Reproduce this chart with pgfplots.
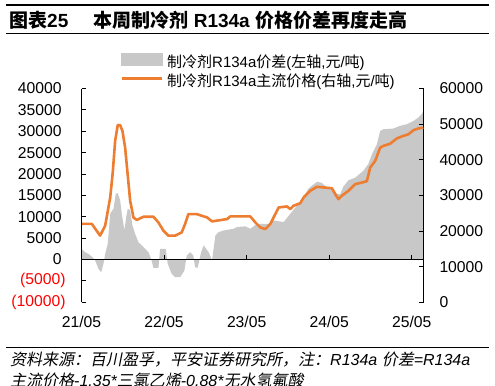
\documentclass[border=0pt]{standalone}
\usepackage{fontspec}
\setmainfont{Liberation Sans}
\newfontfamily\cjk{Noto Sans CJK SC}
\newfontfamily\cjkit{Noto Sans CJK SC}[FakeSlant=0.2]
\usepackage{pgfplots}
\pgfplotsset{compat=1.18}
\definecolor{mygrey}{RGB}{200,200,200}
\definecolor{myorange}{RGB}{237,125,49}
\pgfplotsset{
  greyleg/.style={legend image code/.code={\fill[mygrey] (0bp,-1.5bp) rectangle (41bp,10.7bp);}},
  orangeleg/.style={legend image code/.code={\draw[myorange,line width=3bp] (0bp,4.5bp) -- (40bp,4.5bp);}},
  myframe/.style={at={(81.5bp,82.75bp)}, anchor=south west, scale only axis,
    width=342bp, height=213.75bp, xmin=0, xmax=49.7,
    scaled y ticks=false, scaled x ticks=false},
  labelsonly/.style={myframe, ymin=-10000, ymax=40000,
    axis y line*=left, axis x line*=top,
    x axis line style={draw=none}, y axis line style={draw=none},
    xtick=\empty, ytick style={draw=none}},
}
\pgfplotstableread{
m v
0 2500
0.54 1700
1.02 1300
1.5 700
1.99 -230
2.47 -2200
2.86 -3000
3.19 -1000
3.44 1300
3.82 3700
4.17 10700
4.65 11900
4.98 15400
5.27 15500
5.62 13800
5.85 10700
6.24 6800
6.49 9900
6.72 11900
7.07 11500
7.4 8000
7.79 6000
8.27 4050
9.0 2900
9.73 1700
10.12 150
10.45 -1950
11.18 -1950
11.42 2500
12.24 2500
12.53 -1000
13.11 -3350
13.6 -4150
14.33 -4150
14.95 -2600
15.29 900
15.78 1700
16.26 900
16.5 -1800
16.88 -1950
17.38 1700
17.75 3300
18.48 1700
18.97 -200
19.45 5600
19.93 6400
20.66 6800
22.11 7200
22.6 7600
23.8 7750
24.53 7200
25.5 8350
27.43 8350
27.91 9150
29.37 8750
30.34 10700
31.31 12650
32.27 14600
33.0 16600
33.54 17350
34.26 18200
34.94 17900
35.71 16800
36.43 16800
37.16 15300
37.6 15300
38.03 17000
38.76 18500
39.77 19150
40.93 20700
41.66 22300
42.2 24600
42.92 26950
43.4 30070
43.88 30470
45.29 30630
46.3 31260
47.28 31650
48.24 32400
48.96 33200
49.45 34000
49.69 34800
}\spreadtab
\pgfplotstableread{
m r
0 22000
1.5 22000
2.7 18700
3.44 21500
4.17 29400
4.54 36400
4.89 45300
5.27 49760
5.62 49700
5.95 48100
6.34 43400
6.82 33600
7.07 28500
7.55 23800
8.03 23100
9.0 24000
10.45 24000
11.18 22400
11.9 20100
12.63 18700
13.6 18700
14.56 19600
15.05 21950
15.53 24750
16.74 24750
18.25 23800
18.97 22700
21.15 23350
21.63 24100
24.53 24100
25.26 22400
25.98 21000
26.71 20550
27.43 21950
28.16 24750
28.64 26600
29.86 26900
30.34 26150
30.82 27100
31.79 27800
32.27 29400
32.76 30350
33.24 31300
34.21 32400
36.39 32000
36.87 30350
37.35 28950
37.84 29900
38.8 31300
39.77 33150
40.75 33600
41.47 34000
41.95 37800
42.68 39700
43.4 43400
43.88 43900
44.85 44500
45.83 46000
46.78 46700
47.51 47150
48.24 48300
48.96 48800
49.69 49000
}\pricetab
\begin{document}
\begin{tikzpicture}[x=1bp,y=1bp]
\path[use as bounding box] (0,0) rectangle (495,385);
\draw[line width=1.5bp] (6,380) -- (489,380);
\draw[line width=1.3bp] (6,351.5) -- (489,351.5);
\node[anchor=base west, inner sep=0, font=\fontsize{19bp}{22bp}\selectfont\bfseries] at (9,358) {{\cjk 图表}25};
\node[anchor=base west, inner sep=0, font=\fontsize{19bp}{22bp}\selectfont\bfseries] at (93.3,358) {{\cjk 本周制冷剂} R134a {\cjk 价格价差再度走高}};
\draw[line width=1.2bp] (6,37.5) -- (489,37.5);
\node[anchor=base west, inner sep=0, font=\fontsize{16bp}{20bp}\selectfont\itshape] at (10,20) {{\cjkit 资料来源：百川盈孚，平安证券研究所，注：}R134a {\cjkit 价差}=R134a};
\node[anchor=base west, inner sep=0, font=\fontsize{16bp}{20bp}\selectfont\itshape] at (10,-1.7) {{\cjkit 主流价格}-1.35*{\cjkit 三氯乙烯}-0.88*{\cjkit 无水氢氟酸}};

% red negative labels of the left axis (labels only)
\begin{axis}[
  labelsonly,
  ytick={-10000,-5000}, yticklabels={(10000),(5000)},
  yticklabel style={anchor=east, inner sep=0pt, xshift=-15.8bp, text=red, font=\fontsize{15.7bp}{18bp}\selectfont},
]
\end{axis}

% positive labels of the left axis (labels only)
\begin{axis}[
  labelsonly,
  ytick={0,5000,...,40000},
  yticklabels={0,5000,10000,15000,20000,25000,30000,35000,40000},
  yticklabel style={anchor=east, inner sep=0pt, xshift=-19.8bp, font=\fontsize{15.7bp}{18bp}\selectfont},
]
\end{axis}

% grey spread (left axis scale)
\begin{axis}[myframe, ymin=-10000, ymax=40000, hide axis]
\addplot[fill=mygrey, draw=none] table[x=m, y=v] {\spreadtab} \closedcycle;
\end{axis}

% orange price (right axis), x labels, legend
\begin{axis}[
  myframe, ymin=0, ymax=60000,
  axis y line*=right, axis x line*=bottom,
  x axis line style={draw=none},
  y axis line style={black, line width=1bp},
  tick align=inside, major tick length=4.5bp,
  ytick style={black, line width=1bp},
  xtick style={draw=none},
  xtick={0,12,24,36,48}, xticklabels={21/05,22/05,23/05,24/05,25/05},
  xticklabel style={anchor=north, inner sep=0pt, yshift=-14bp, font=\fontsize{15.7bp}{18bp}\selectfont},
  ytick={0,10000,...,60000},
  yticklabels={0,10000,20000,30000,40000,50000,60000},
  yticklabel style={anchor=west, inner sep=0pt, xshift=15.8bp, font=\fontsize{15.7bp}{18bp}\selectfont},
  legend style={at={(0.1125,1.166)}, anchor=north west, draw=none, fill=none, inner sep=0pt,
    row sep=2bp, column sep=3bp,
    nodes={inner sep=1bp, text height=11bp, text depth=3.5bp, font=\fontsize{15bp}{18bp}\selectfont}},
  legend cell align=left,
]
\addlegendimage{greyleg}
\addlegendentry{{\cjk 制冷剂}R134a{\cjk 价差}({\cjk 左轴},{\cjk 元}/{\cjk 吨})}
\addplot[myorange, line width=2.6bp, line join=round, orangeleg] table[x=m, y=r] {\pricetab};
\addlegendentry{{\cjk 制冷剂}R134a{\cjk 主流价格}({\cjk 右轴},{\cjk 元}/{\cjk 吨})}
\end{axis}

% frame of the left axis: axis line, its ticks, zero line and its ticks
\draw[black, line width=1.1bp] (81.5,82.75) -- (81.5,296.5);
\foreach \k in {0,...,10} {
  \draw[black, line width=1bp] (81.5,82.75+21.375*\k) -- (86,82.75+21.375*\k);
}
\draw[black, line width=1.3bp] (81.5,125.5) -- (423.5,125.5);
\foreach \k in {1,...,4} {
  \draw[black, line width=1bp] (81.5+82.575*\k,125.5) -- (81.5+82.575*\k,130.5);
}
\end{tikzpicture}
\end{document}
